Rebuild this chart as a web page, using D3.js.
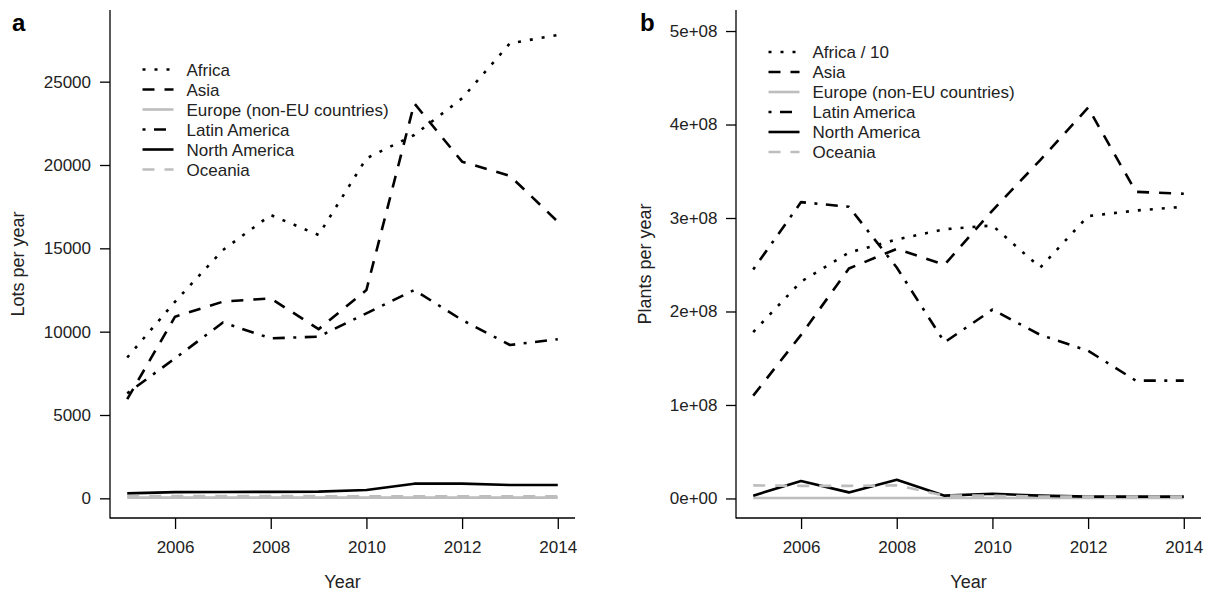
<!DOCTYPE html>
<html><head><meta charset="utf-8">
<script src="https://cdn.jsdelivr.net/npm/d3@7"></script>
<style>
body{margin:0;background:#fff;}
svg{font-family:"Liberation Sans",Arial,sans-serif;}
</style></head>
<body><svg id="c" width="1213" height="593"></svg>
<script>
const years = [2005,2006,2007,2008,2009,2010,2011,2012,2013,2014];
const regions = ["Africa","Asia","Europe (non-EU countries)","Latin America","North America","Oceania"];
const legendB = ["Africa / 10","Asia","Europe (non-EU countries)","Latin America","North America","Oceania"];
// Panel a: lots per year
const lotsAfrica = [8450,11800,14900,17000,15800,20400,21800,24000,27300,27800];
const lotsAsia   = [5950,10900,11800,12000,10150,12500,23700,20200,19350,16600];
const lotsEurope = [40,40,40,40,40,40,40,40,40,40];
const lotsLatin  = [6300,8400,10550,9600,9700,11100,12500,10700,9200,9550];
const lotsNorthAm= [300,370,380,390,400,500,880,880,800,800];
const lotsOceania= [130,130,130,130,130,120,120,120,120,120];
// Panel b: plants per year
const plAfrica10 = [1.78e8,2.32e8,2.63e8,2.77e8,2.88e8,2.92e8,2.47e8,3.02e8,3.08e8,3.12e8];
const plAsia     = [1.10e8,1.75e8,2.46e8,2.67e8,2.50e8,3.08e8,3.62e8,4.18e8,3.28e8,3.26e8];
const plEurope   = [0.05e7,0.05e7,0.05e7,0.05e7,0.05e7,0.05e7,0.05e7,0.05e7,0.05e7,0.05e7];
const plLatin    = [2.45e8,3.17e8,3.12e8,2.47e8,1.67e8,2.02e8,1.75e8,1.58e8,1.26e8,1.26e8];
const plNorthAm  = [0.3e7,1.87e7,0.65e7,2.0e7,0.3e7,0.5e7,0.3e7,0.2e7,0.2e7,0.2e7];
const plOceania  = [1.4e7,1.35e7,1.35e7,1.4e7,0.3e7,0.3e7,0.2e7,0.2e7,0.2e7,0.2e7];
const ticksA = [0,5000,10000,15000,20000,25000];
const ticksB = [0,1e8,2e8,3e8,4e8,5e8];
const ticksX = [2006,2008,2010,2012,2014];

const styles = [
  {color:"#000", dash:"3,9"},
  {color:"#000", dash:"12,10"},
  {color:"#bdbdbd", dash:null},
  {color:"#000", dash:"3,8.5,12,8.5"},
  {color:"#000", dash:null},
  {color:"#bdbdbd", dash:"12,10"}
];

const svg = d3.select("#c");

function panel(opt){
  const g = svg.append("g");
  const x = d3.scaleLinear().domain([2005-0.36,2014+0.36]).range([opt.left,opt.right]);
  const y = d3.scaleLinear().domain(opt.yDomain).range([518,10]);
  g.append("line").attr("x1",opt.left).attr("x2",opt.left).attr("y1",10).attr("y2",518.6).attr("stroke","#000").attr("stroke-width",1.3);
  g.append("line").attr("x1",opt.left).attr("x2",opt.right).attr("y1",518).attr("y2",518).attr("stroke","#000").attr("stroke-width",1.3);
  const ax = g.append("g").attr("transform",`translate(0,518)`)
    .call(d3.axisBottom(x).tickValues(ticksX).tickFormat(d3.format("d")).tickSize(11).tickPadding(12).tickSizeOuter(0));
  const ay = g.append("g").attr("transform",`translate(${opt.left},0)`)
    .call(d3.axisLeft(y).tickValues(opt.ticks).tickFormat(opt.fmt).tickSize(10).tickPadding(opt.ypad).tickSizeOuter(0));
  [ax,ay].forEach(a=>{
    a.select(".domain").remove();
    a.selectAll("line").attr("stroke","#000").attr("stroke-width",1.3);
    a.selectAll("text").attr("font-size",17).attr("fill","#222").attr("font-family","Liberation Sans, Arial, sans-serif");
  });
  const line = d3.line().x((d,i)=>x(years[i])).y(d=>y(d));
  opt.series.forEach((s,i)=>{
    const st = styles[i];
    g.append("path").datum(s).attr("d",line).attr("fill","none")
      .attr("stroke",st.color).attr("stroke-width",2.6)
      .attr("stroke-dasharray",st.dash).attr("stroke-linejoin","round");
  });
  opt.legend.forEach((t,i)=>{
    const st = styles[i];
    const yy = opt.legY + i*20;
    g.append("line").attr("x1",opt.legX).attr("x2",opt.legX+31).attr("y1",yy).attr("y2",yy)
      .attr("stroke",st.color).attr("stroke-width",2.6).attr("stroke-dasharray",st.dash);
    g.append("text").attr("x",opt.legX+44).attr("y",yy).attr("dy","0.36em")
      .attr("font-size",17).attr("fill","#222").text(t);
  });
  const cx = (opt.left+opt.right)/2;
  g.append("text").attr("x",cx).attr("y",588).attr("text-anchor","middle").attr("font-size",18).attr("fill","#222").text("Year");
  g.append("text").attr("transform",`translate(${opt.ylabX},264) rotate(-90)`).attr("text-anchor","middle")
    .attr("font-size",18).attr("fill","#222").text(opt.ylab);
  g.append("text").attr("x",opt.tagX).attr("y",31).attr("font-size",24).attr("font-weight","bold").attr("fill","#000").text(opt.tag);
}

panel({left:110,right:575,yDomain:[-1180,29300],ticks:ticksA,fmt:d3.format("d"),ypad:9,
  series:[lotsAfrica,lotsAsia,lotsEurope,lotsLatin,lotsNorthAm,lotsOceania],
  legend:regions,legX:142.5,legY:69.5,ylab:"Lots per year",ylabX:24,tag:"a",tagX:12});

const sci = d=> d===0 ? "0e+00" : (d/1e8)+"e+08";
panel({left:736,right:1201,yDomain:[-2.09e7,5.225e8],ticks:ticksB,fmt:sci,ypad:8.5,
  series:[plAfrica10,plAsia,plEurope,plLatin,plNorthAm,plOceania],
  legend:legendB,legX:768.5,legY:52,ylab:"Plants per year",ylabX:651,tag:"b",tagX:640});
</script>
</body></html>
